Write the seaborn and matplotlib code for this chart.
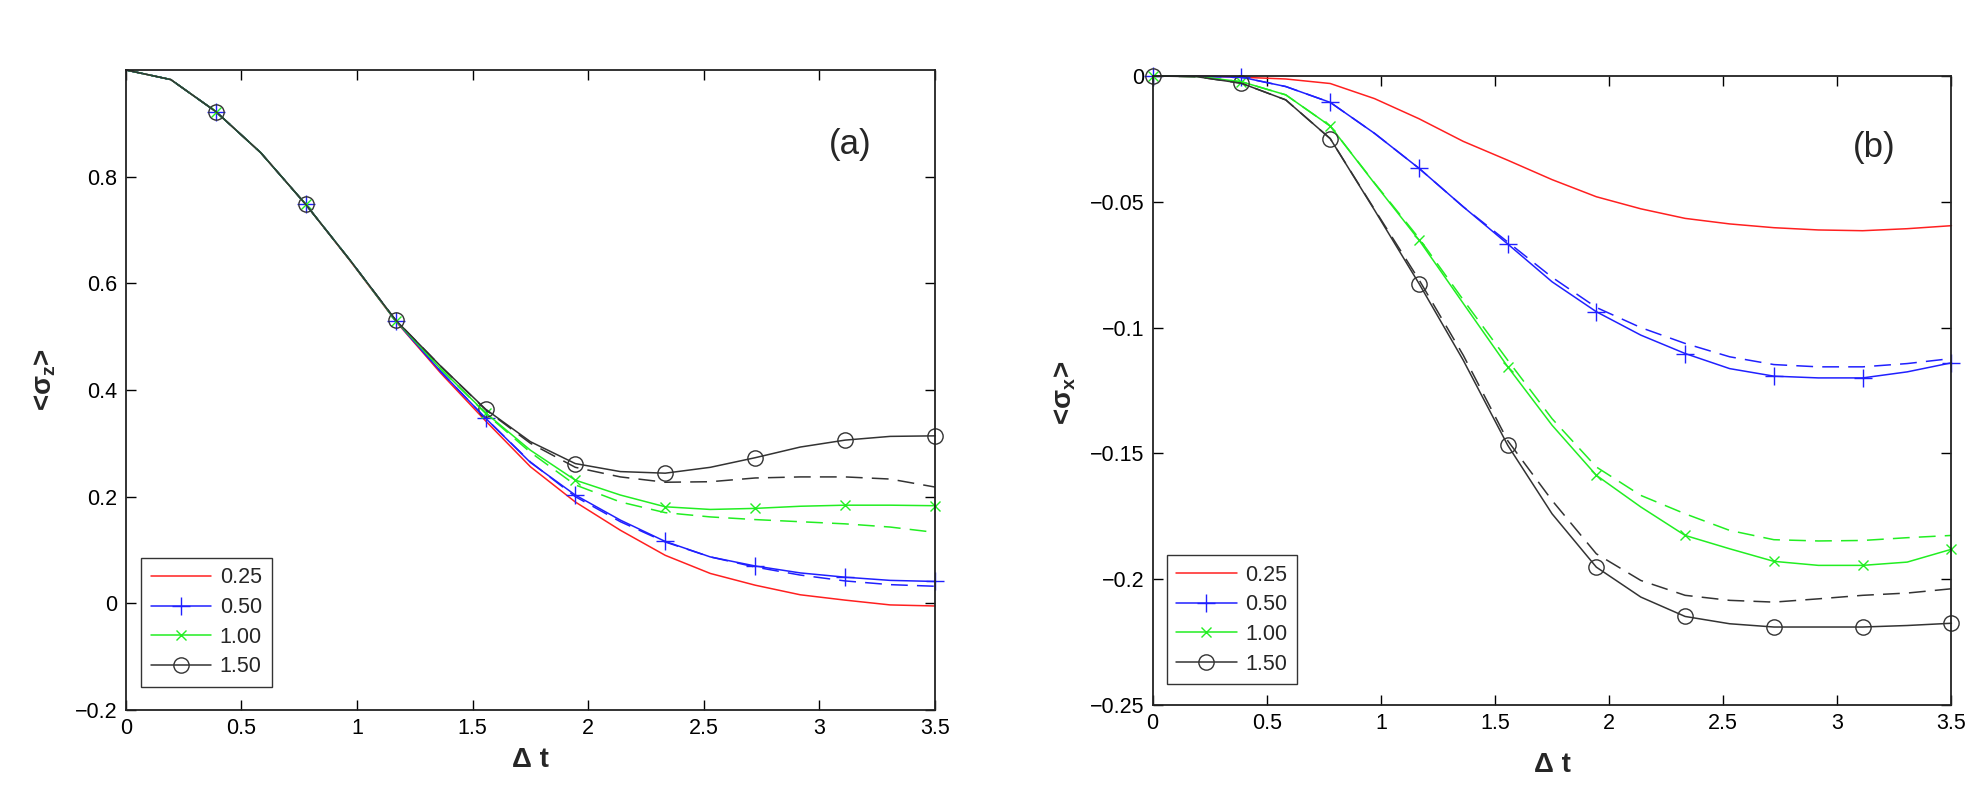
import matplotlib
matplotlib.use("Agg")
import matplotlib.pyplot as plt
from matplotlib.lines import Line2D
import seaborn as sns

# --- values ---
dt = [0.0, 0.194, 0.389, 0.583, 0.778, 0.972, 1.167, 1.361, 1.556, 1.75,
      1.944, 2.139, 2.333, 2.528, 2.722, 2.917, 3.111, 3.306, 3.5]
series_labels = ["0.25", "0.50", "1.00", "1.50"]

# panel (a): <sigma_z>, solid lines
sz_025 = [1.0, 0.982, 0.922, 0.845, 0.748, 0.641, 0.529, 0.432, 0.342, 0.256,
          0.190, 0.137, 0.090, 0.056, 0.034, 0.016, 0.006, -0.003, -0.005]
sz_050 = [1.0, 0.982, 0.922, 0.845, 0.748, 0.642, 0.530, 0.435, 0.347, 0.264,
          0.203, 0.156, 0.116, 0.087, 0.070, 0.057, 0.049, 0.043, 0.041]
sz_100 = [1.0, 0.982, 0.922, 0.845, 0.748, 0.642, 0.530, 0.440, 0.357, 0.287,
          0.231, 0.203, 0.181, 0.176, 0.178, 0.182, 0.184, 0.184, 0.183]
sz_150 = [1.0, 0.982, 0.922, 0.845, 0.748, 0.642, 0.531, 0.445, 0.364, 0.303,
          0.262, 0.247, 0.244, 0.255, 0.273, 0.293, 0.306, 0.313, 0.314]
# panel (a): dashed counterparts
sz_050_d = [1.0, 0.982, 0.922, 0.845, 0.748, 0.642, 0.530, 0.435, 0.347, 0.265,
            0.200, 0.153, 0.115, 0.087, 0.068, 0.053, 0.042, 0.035, 0.032]
sz_100_d = [1.0, 0.982, 0.922, 0.845, 0.748, 0.642, 0.530, 0.440, 0.356, 0.283,
            0.222, 0.190, 0.170, 0.162, 0.157, 0.153, 0.149, 0.143, 0.133]
sz_150_d = [1.0, 0.982, 0.922, 0.845, 0.748, 0.642, 0.531, 0.445, 0.363, 0.300,
            0.255, 0.237, 0.227, 0.228, 0.235, 0.237, 0.237, 0.233, 0.218]

# panel (b): <sigma_x>, solid lines
sx_025 = [0.0, 0.0, -0.0005, -0.0012, -0.003, -0.009, -0.017, -0.026, -0.0335, -0.0412,
          -0.048, -0.0528, -0.0566, -0.0588, -0.0603, -0.0612, -0.0615, -0.0607, -0.0595]
sx_050 = [0.0, -0.0001, -0.0005, -0.0042, -0.0105, -0.0228, -0.0367, -0.052, -0.0668, -0.0818,
          -0.0937, -0.103, -0.1103, -0.1163, -0.1193, -0.120, -0.120, -0.1176, -0.114]
sx_100 = [0.0, -0.0002, -0.0023, -0.0075, -0.0199, -0.0427, -0.0652, -0.0904, -0.1156, -0.1388,
          -0.1587, -0.1713, -0.1826, -0.1879, -0.1929, -0.1945, -0.1945, -0.1932, -0.1881]
sx_150 = [0.0, -0.0003, -0.0029, -0.0095, -0.0249, -0.0533, -0.0825, -0.113, -0.1468, -0.174,
          -0.1952, -0.2071, -0.2148, -0.2177, -0.219, -0.219, -0.219, -0.2184, -0.2175]
# panel (b): dashed counterparts
sx_050_d = [0.0, -0.0001, -0.0005, -0.0042, -0.0105, -0.0228, -0.0367, -0.052, -0.066, -0.080,
            -0.092, -0.100, -0.1063, -0.1116, -0.1147, -0.1156, -0.1156, -0.1143, -0.1123]
sx_100_d = [0.0, -0.0002, -0.0023, -0.0075, -0.0199, -0.0425, -0.0645, -0.089, -0.113, -0.1362,
            -0.1554, -0.1667, -0.174, -0.1806, -0.1843, -0.1848, -0.1846, -0.1835, -0.1826]
sx_150_d = [0.0, -0.0003, -0.0029, -0.0095, -0.0249, -0.053, -0.081, -0.111, -0.145, -0.1687,
            -0.1899, -0.2005, -0.2064, -0.2084, -0.2091, -0.2078, -0.2064, -0.2055, -0.2038]

xticks = [0, 0.5, 1, 1.5, 2, 2.5, 3, 3.5]
xtick_labels = ["0", "0.5", "1", "1.5", "2", "2.5", "3", "3.5"]
a_yticks = [-0.2, 0, 0.2, 0.4, 0.6, 0.8]
a_ytick_labels = ["\u22120.2", "0", "0.2", "0.4", "0.6", "0.8"]
b_yticks = [-0.25, -0.2, -0.15, -0.1, -0.05, 0]
b_ytick_labels = ["\u22120.25", "\u22120.2", "\u22120.15", "\u22120.1", "\u22120.05", "0"]

# --- style ---
sns.set_style("ticks")
plt.rcParams["font.family"] = ["Liberation Sans", "DejaVu Sans"]
plt.rcParams["mathtext.fontset"] = "custom"
plt.rcParams["mathtext.rm"] = "Liberation Sans"
plt.rcParams["mathtext.bf"] = "Liberation Sans:bold"

colors = ["#ff2020", "#2020ff", "#22ee22", "#333333"]
markers = [None, "+", "x", "o"]
msizes = [0, 13, 7, 11]
dash_style = (0, (11, 6))


def draw_panel(ax, solid, dashed, first_mark):
    mark_slice = slice(first_mark, None, 2)
    for vals, c, m, ms in zip(solid, colors, markers, msizes):
        kw = dict(marker=m, markevery=mark_slice, ms=ms, mfc="none", mec=c, mew=1.0) if m else {}
        sns.lineplot(x=dt, y=vals, ax=ax, color=c, lw=1.1, clip_on=False, **kw)
    for vals, c in zip(dashed, colors[1:]):
        sns.lineplot(x=dt, y=vals, ax=ax, color=c, lw=1.1, linestyle=dash_style)

    handles = []
    for c, m, ms in zip(colors, markers, msizes):
        handles.append(Line2D([], [], color=c, lw=1.1, marker=m, ms=ms,
                              mfc="none", mec=c, mew=1.0))
    return handles


def style_axes(ax, yticks, yticklabels, ylim):
    ax.set_xlim(0, 3.5)
    ax.set_ylim(*ylim)
    ax.set_xticks(xticks)
    ax.set_xticklabels(xtick_labels)
    ax.set_yticks(yticks)
    ax.set_yticklabels(yticklabels)
    ax.tick_params(direction="in", length=7, width=1, top=True, right=True,
                   labelsize=15.5, pad=6, colors="black")
    for sp in ax.spines.values():
        sp.set_visible(True)
        sp.set_linewidth(1.3)
        sp.set_color("#222222")


fig = plt.figure(figsize=(19.86, 7.88), dpi=100)
ax_a = fig.add_axes([0.0634, 0.099, 0.4074, 0.8122])
ax_b = fig.add_axes([0.5804, 0.1053, 0.4022, 0.7983])

h_a = draw_panel(ax_a, [sz_025, sz_050, sz_100, sz_150], [sz_050_d, sz_100_d, sz_150_d], 2)
h_b = draw_panel(ax_b, [sx_025, sx_050, sx_100, sx_150], [sx_050_d, sx_100_d, sx_150_d], 0)

style_axes(ax_a, a_yticks, a_ytick_labels, (-0.2, 1.0))
style_axes(ax_b, b_yticks, b_ytick_labels, (-0.25, 0))

ax_a.set_xlabel("\u0394 t", fontsize=20, fontweight="bold")
ax_b.set_xlabel("\u0394 t", fontsize=20, fontweight="bold")
ax_a.set_ylabel(r"<σ$_\mathbf{z}$>", fontsize=20, fontweight="bold")
ax_b.set_ylabel(r"<σ$_\mathbf{x}$>", fontsize=20, fontweight="bold")
ax_a.xaxis.set_label_coords(0.5, -0.058)
ax_b.xaxis.set_label_coords(0.5, -0.075)
ax_a.yaxis.set_label_coords(-0.084, 0.516)
ax_b.yaxis.set_label_coords(-0.094, 0.496)

ax_a.text(0.895, 0.883, "(a)", transform=ax_a.transAxes, fontsize=25,
          ha="center", va="center")
ax_b.text(0.903, 0.887, "(b)", transform=ax_b.transAxes, fontsize=25,
          ha="center", va="center")

for ax, h, anchor in [(ax_a, h_a, (0.019, 0.036)), (ax_b, h_b, (0.0175, 0.033))]:
    leg = ax.legend(h, series_labels, loc="lower left", bbox_to_anchor=anchor,
                    borderaxespad=0, frameon=True, fancybox=False, fontsize=15.5,
                    handlelength=2.8, numpoints=1, labelspacing=0.4,
                    handletextpad=0.4, borderpad=0.45)
    leg.get_frame().set_edgecolor("black")
    leg.get_frame().set_linewidth(1.0)

fig.savefig("out.png", dpi=100, facecolor="white")
